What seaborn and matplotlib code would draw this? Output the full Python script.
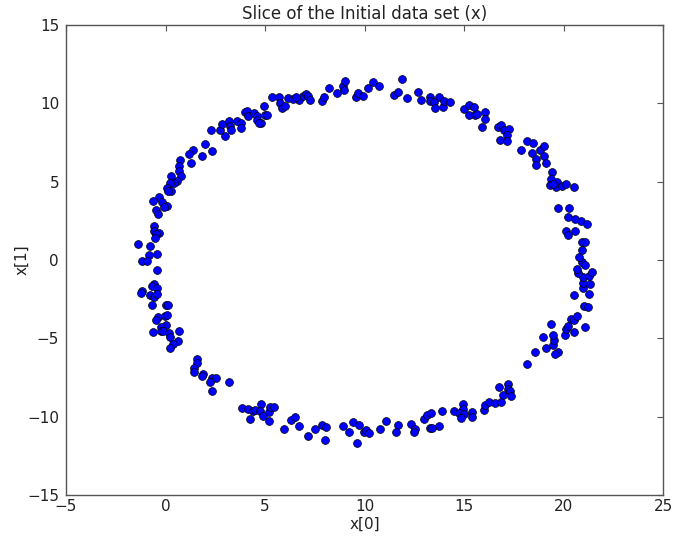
import matplotlib
matplotlib.use("Agg")
import matplotlib.pyplot as plt
import seaborn as sns
import pandas as pd

# First two coordinates of the initial data set
x0 = [
    1.96, 2.31, 1.84, 1.40, 1.20, 1.28, 0.72, 0.65, 0.68, 0.78, 0.25, 0.58, 0.42, 0.22,
    0.05, 0.28, 0.10, -0.33, -0.61, -0.16, 0.08, -0.10, -0.46, -0.38, -0.56, -0.60, -0.31,
    -0.46, -0.53, -1.38, -0.80, -0.83, -0.45, -1.18, -0.91,
    -0.41, -0.56, -0.68, -0.43, -1.18, -1.21, -0.80, -0.58, -0.45, -0.68, 0.03, 0.12,
    -0.36, -0.46, -0.01, 0.07, 0.00, -0.23, -0.25, -0.11, -0.65, 0.17, 0.22, 0.67, 0.62,
    0.37, 0.22, 1.58, 1.59, 1.43, 1.45, 1.86, 1.81, 2.33, 2.53,
    2.24, 2.34, 3.19, 3.82, 4.16, 4.37, 4.50, 4.80, 4.73, 4.22, 4.90, 5.17, 5.22, 5.27,
    5.45, 5.93, 6.30, 6.50, 6.70,
    7.16, 7.52, 7.86, 8.04, 8.02, 8.89, 9.20, 9.40, 9.74, 9.62, 9.95, 10.06, 10.21, 10.78,
    11.08, 11.66, 11.58, 12.31, 12.53, 12.46, 12.99, 13.14,
    13.35, 13.72, 13.26, 13.38, 13.90, 14.48, 14.92, 14.92, 14.73, 14.97, 14.82, 15.37,
    15.38, 16.01, 16.03, 16.24, 16.56, 16.83, 16.94, 16.73, 17.22, 17.19, 17.31, 17.34,
    18.16,
    18.58, 19.10, 19.45, 19.53, 18.97, 19.45, 19.35, 19.73, 19.55, 20.05, 20.11, 20.20,
    20.51, 20.38, 20.50, 20.67, 21.05, 21.01, 21.21, 20.51, 21.26, 20.98, 21.31, 20.95,
    20.98, 21.26, 21.40, 20.71, 20.68, 20.90, 21.06, 20.76,
    20.93, 20.93, 21.06, 20.13, 20.55, 20.23, 20.23, 20.55, 20.85, 21.15, 19.70, 20.26,
    19.65, 19.60, 19.90, 20.13, 20.50, 19.43, 19.38, 19.30, 19.48,
    13.74, 13.92, 14.00, 14.30, 15.00, 15.25, 15.23, 15.47, 15.53, 15.63, 16.06, 16.03,
    15.88, 16.69, 16.86, 16.99, 17.24, 17.17, 16.79, 17.13, 18.14, 18.44, 17.86, 18.42,
    18.83, 19.03, 18.60, 19.00, 19.10, 18.60,
    6.72, 6.90, 7.05, 7.13, 7.26, 7.87, 7.94, 8.21, 8.59, 8.92, 8.99, 8.95, 9.55, 9.67,
    9.90, 10.18, 10.40, 10.70, 11.49, 11.69, 11.86, 12.11, 12.69, 12.81, 13.30, 13.27,
    13.50, 13.54,
    2.28, 2.73, 2.99, 2.81, 3.21, 3.22, 3.27, 3.57, 3.79, 3.77, 3.97, 4.09, 4.16, 4.43,
    4.57, 4.58, 4.80, 4.67, 4.95, 4.97, 5.07, 5.35, 5.72, 5.73, 5.85, 6.00, 6.13, 6.41,
    6.53,
]
x1 = [
    7.38, 6.94, 6.66, 7.00, 6.75, 6.21, 6.36, 6.02, 5.68, 5.38, 5.34, 5.04, 4.89, 4.89,
    4.58, 4.42, 4.42, 4.00, 3.78, 3.70, 3.47, 3.38, 3.17, 2.92, 2.15, 1.85, 1.74,
    1.64, 1.42, 1.00, 0.89, 0.32, 0.36, -0.08, -0.08,
    -0.64, -1.55, -1.66, -1.81, -1.96, -2.13, -2.25, -2.34, -2.19, -2.85, -2.89, -2.89,
    -3.62, -3.83, -3.57, -3.53, -4.13, -4.26, -4.53, -4.53, -4.61, -4.66, -4.91, -4.51, -5.17,
    -5.38, -5.62, -6.34, -6.60, -6.91, -7.17, -7.26, -7.40, -7.51, -7.55,
    -7.79, -8.36, -7.80, -9.43, -9.51, -9.64, -9.55, -9.19, -9.64, -10.17, -9.97, -10.27,
    -9.70, -9.40, -9.36, -10.80, -10.23, -10.04, -10.57,
    -11.23, -10.80, -10.51, -10.66, -11.49, -10.61, -10.96, -10.36, -10.55, -11.66, -10.98,
    -10.85, -11.06, -10.80, -10.29, -10.55, -11.00, -10.47, -10.80, -10.96, -10.17, -9.89,
    -9.76, -10.57, -10.74, -10.74, -9.62, -9.62, -9.17, -9.49, -9.74, -9.85, -10.06, -9.70,
    -10.00, -9.57, -9.27, -9.08, -9.13, -9.04, -8.63, -8.09, -7.93, -8.21, -8.36, -8.70,
    -6.64,
    -5.89, -5.64, -5.42, -5.12, -4.91, -4.77, -4.07, -5.89, -6.00, -4.81, -4.40, -4.23,
    -4.61, -3.78, -3.85, -3.57, -4.28, -2.94, -3.00, -2.23, -2.15, -1.77, -1.53, -1.45,
    -1.10, -1.02, -0.77, -0.81, -0.56, -0.11, -0.30, 0.21,
    0.66, 1.15, 1.15, 1.83, 1.87, 1.58, 2.72, 2.64, 2.51, 2.32, 3.30, 3.30,
    4.98, 4.68, 4.74, 4.87, 4.64, 5.60, 5.17, 4.79, 4.85,
    10.38, 9.74, 10.17, 10.08, 9.62, 9.91, 9.23, 9.74, 9.27, 9.32, 9.43, 8.98,
    8.47, 8.47, 8.62, 8.30, 8.36, 7.98, 7.64, 7.59, 7.57, 7.45, 7.00, 6.83,
    6.99, 7.26, 6.45, 6.64, 6.21, 6.06,
    10.23, 10.49, 10.62, 10.49, 10.23, 10.15, 10.42, 10.98, 10.64, 11.10, 11.44, 10.85,
    10.42, 10.68, 10.47, 10.96, 11.36, 11.08, 10.53, 10.74, 11.57, 10.32, 10.72, 10.19,
    10.40, 10.15, 10.10, 9.72,
    8.32, 8.30, 7.91, 8.66, 8.85, 8.57, 8.30, 8.89, 8.76, 8.44, 9.43, 9.49, 9.19, 9.38,
    9.19, 8.92, 8.76, 8.76, 9.85, 9.25, 9.25, 10.40, 10.38, 10.02, 9.70, 9.83, 10.36, 10.26,
    10.40,
]

x_ticks = [-5, 0, 5, 10, 15, 20, 25]
y_ticks = [-15, -10, -5, 0, 5, 10, 15]

df = pd.DataFrame({"x[0]": x0, "x[1]": x1})

sns.set_style("white")
plt.rcParams["font.family"] = ["DejaVu Sans"]

edge = "#555555"
fig = plt.figure(figsize=(6.73, 5.36), dpi=100)
ax = fig.add_axes([0.0981, 0.0765, 0.8875, 0.8769])

sns.scatterplot(data=df, x="x[0]", y="x[1]", ax=ax, color="blue",
                edgecolor="black", linewidth=0.5, s=32, zorder=3)

ax.set_xlim(-5, 25)
ax.set_ylim(-15, 15)
ax.set_xticks(x_ticks)
ax.set_yticks(y_ticks)
ax.tick_params(direction="in", length=4, width=0.8, color=edge,
               top=True, right=True, labelsize=11, labelcolor="#222222")
ax.tick_params(axis="x", pad=3)
ax.tick_params(axis="y", pad=5)
for sp in ax.spines.values():
    sp.set_visible(True)
    sp.set_color(edge)
    sp.set_linewidth(1.0)

ax.set_title("Slice of the Initial data set (x)", fontsize=12, color="#222222", pad=4)
ax.set_xlabel("x[0]", fontsize=11, color="#222222", labelpad=2)
ax.set_ylabel("x[1]", fontsize=11, color="#222222", labelpad=-2)

fig.savefig("out.png", dpi=100)
